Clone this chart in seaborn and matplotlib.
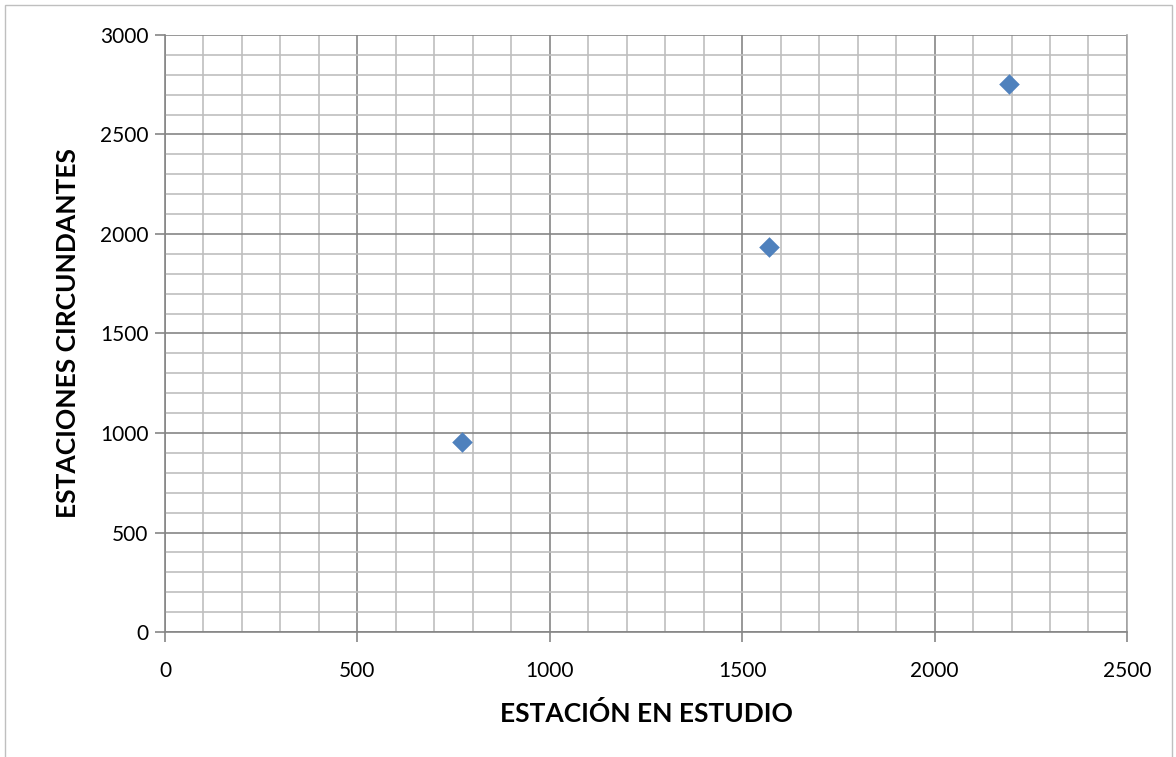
import pandas as pd
import matplotlib.pyplot as plt
import seaborn as sns
from matplotlib.ticker import MultipleLocator
from matplotlib.patches import Rectangle

# datos
estacion_estudio = [771, 1571, 2193]
estaciones_circundantes = [955, 1933, 2756]

df = pd.DataFrame({
    "ESTACIÓN EN ESTUDIO": estacion_estudio,
    "ESTACIONES CIRCUNDANTES": estaciones_circundantes,
})

sns.set_style("white")
plt.rcParams['font.family'] = ['Lato', 'DejaVu Sans']
plt.rcParams['text.color'] = 'black'
plt.rcParams['xtick.color'] = 'black'
plt.rcParams['ytick.color'] = 'black'
plt.rcParams['axes.labelcolor'] = 'black'

fig = plt.figure(figsize=(11.76, 7.57), dpi=100)
ax = fig.add_axes([0.1403, 0.1651, 0.818, 0.7887])

# marco exterior del área del gráfico
fig.patches.append(Rectangle((0.004, -0.01), 0.993, 1.003, transform=fig.transFigure,
                             fill=False, edgecolor='#BFBFBF', linewidth=1))

sns.scatterplot(data=df, x="ESTACIÓN EN ESTUDIO", y="ESTACIONES CIRCUNDANTES",
                marker='D', s=110, color='#4F81BD', edgecolor='#4F81BD',
                linewidth=0, ax=ax, zorder=5)

ax.set_xlim(0, 2500)
ax.set_ylim(0, 3000)
ax.xaxis.set_major_locator(MultipleLocator(500))
ax.yaxis.set_major_locator(MultipleLocator(500))
ax.xaxis.set_minor_locator(MultipleLocator(100))
ax.yaxis.set_minor_locator(MultipleLocator(100))

ax.grid(which='major', color='#868686', linewidth=1.2)
ax.grid(which='minor', color='#BFBFBF', linewidth=1.2)
ax.set_axisbelow(True)

for side in ['left', 'bottom', 'right']:
    ax.spines[side].set_visible(True)
    ax.spines[side].set_color('#868686')
    ax.spines[side].set_linewidth(1.2)
ax.spines['top'].set_visible(False)
ax.spines['right'].set_color('#A6A6A6')

ax.tick_params(which='major', direction='out', length=7, width=1.2,
               labelsize=15, bottom=True, left=True)
ax.tick_params(which='major', color='#868686')
ax.tick_params(axis='x', pad=14)
ax.tick_params(axis='y', pad=5)
ax.tick_params(which='minor', length=0)

ax.set_xlabel("ESTACIÓN EN ESTUDIO", fontsize=19, fontweight='bold', labelpad=14)
ax.set_ylabel("ESTACIONES CIRCUNDANTES", fontsize=19, fontweight='bold', labelpad=14)

fig.savefig("out.png", dpi=100)
